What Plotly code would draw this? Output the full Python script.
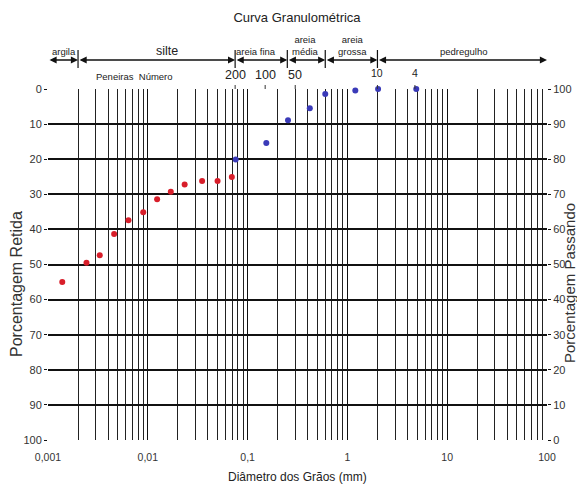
import math
import plotly.graph_objects as go

# ---- data ----
diam_fine = [0.00139, 0.00243, 0.0033, 0.0046, 0.0064, 0.0090, 0.0124, 0.017, 0.0234, 0.035, 0.050, 0.0695]
ret_fine = [55.0, 49.5, 47.4, 41.3, 37.4, 35.1, 31.4, 29.3, 27.2, 26.2, 26.2, 25.1]

diam_sieve = [0.076, 0.154, 0.254, 0.42, 0.60, 1.20, 2.03, 4.9]
ret_sieve = [20.1, 15.4, 8.9, 5.5, 1.4, 0.4, 0.0, 0.0]

zone_bounds = [0.001, 0.002, 0.075, 0.25, 0.6, 2.0, 100]
zone_names = ["argila", "silte", "areia fina", "areia<br>média", "areia<br>grossa", "pedregulho"]
zone_label_x = [0.00145, 0.0157, 0.12, 0.383, 1.135, 14.8]

sieve_numbers = ["200", "100", "50", "10", "4"]
sieve_sizes = [0.075, 0.15, 0.3, 2.0, 4.75]

x_tickvals = [0.001, 0.01, 0.1, 1, 10, 100]
x_ticktext = ["0,001", "0,01", "0,1", "1", "10", "100"]

FONT = "Liberation Sans, Arial, sans-serif"

minor_vals = [m * 10 ** e for e in range(-3, 2) for m in range(2, 10)]

# page body has an 8px margin; figure is sized to fit the 585x486 window
OFF = 8
W, H = 585 - OFF, 486 - OFF
PL, PR, PT, PB = 48, 547, 89, 440  # plot area in page pixels
plot_w = PR - PL
plot_h = PB - PT


def py(pix):
    return (PB - pix) / plot_h


def px(pix):
    return (pix - PL) / plot_w


fig = go.Figure()
fig.add_trace(go.Scatter(x=diam_fine, y=ret_fine, mode="markers",
                         marker=dict(color="#d81e2a", size=6), yaxis="y",
                         cliponaxis=False, showlegend=False))
fig.add_trace(go.Scatter(x=diam_sieve, y=ret_sieve, mode="markers",
                         marker=dict(color="#3a3ab8", size=6), yaxis="y",
                         cliponaxis=False, showlegend=False))
fig.add_trace(go.Scatter(x=[0.001], y=[None], yaxis="y2", showlegend=False))

fig.update_layout(
    width=W, height=H,
    margin=dict(l=PL - OFF, r=W - (PR - OFF), t=PT - OFF, b=H - (PB - OFF), autoexpand=False),
    plot_bgcolor="white", paper_bgcolor="white",
    font=dict(family=FONT, size=11, color="#222"),
    title=dict(text="Curva Granulométrica", x=(297 - OFF) / W, xanchor="center",
               y=1 - (17 - OFF) / H, yanchor="middle", yref="container",
               font=dict(family=FONT, size=13, color="#222")),
    xaxis=dict(type="log", range=[-3, 2], tickmode="array", tickvals=x_tickvals, ticktext=x_ticktext,
               showgrid=True, gridcolor="#111", gridwidth=1.2, automargin=False,
               minor=dict(tickmode="array", tickvals=minor_vals, showgrid=True, gridcolor="#222", gridwidth=1),
               showline=False, ticks="", zeroline=False, ticklabelstandoff=9,
               tickfont=dict(size=10.5, color="#333")),
    yaxis=dict(range=[100, 0], tickmode="linear", tick0=0, dtick=10, automargin=False,
               showgrid=True, gridcolor="#111", gridwidth=1.5, zeroline=False,
               ticks="outside", ticklen=3, tickcolor="#111",
               tickfont=dict(size=11, color="#333")),
    yaxis2=dict(range=[0, 100], overlaying="y", side="right", tickmode="linear", tick0=0, dtick=10,
                showgrid=False, zeroline=False, ticks="outside", ticklen=3, tickcolor="#111",
                automargin=False, tickfont=dict(size=11, color="#333")),
)

annotations = []
shapes = []
arrow_y = py(60)
for i, name in enumerate(zone_names):
    a, b = zone_bounds[i], zone_bounds[i + 1]
    annotations.append(dict(x=math.log10(b), y=arrow_y, xref="x", yref="paper",
                            ax=math.log10(a), ay=0, axref="x", ayref="pixel",
                            text="", showarrow=True, arrowhead=2, arrowsize=1.1,
                            arrowwidth=1.3, arrowside="end+start", arrowcolor="#111",
                            startarrowhead=2, startarrowsize=1.1))
    big = name == "silte"
    annotations.append(dict(x=math.log10(zone_label_x[i]), y=py(60 if big else 59), xref="x", yref="paper",
                            text=name, showarrow=False, yanchor="bottom",
                            font=dict(size=12.5 if big else 9.5, color="#222", family=FONT)))
for bnd in zone_bounds[1:-1]:
    shapes.append(dict(type="line", xref="x", yref="paper", x0=bnd, x1=bnd,
                       y0=py(50), y1=py(68), line=dict(color="#111", width=1.2)))

for lab, s in zip(sieve_numbers, sieve_sizes):
    small = lab in ("10", "4")
    annotations.append(dict(x=math.log10(s), y=py(84 if not small else 81), xref="x", yref="paper",
                            text=lab, showarrow=False, yanchor="bottom",
                            font=dict(size=10.5 if small else 12.5, color="#222", family=FONT)))
    shapes.append(dict(type="line", xref="x", yref="paper", x0=s, x1=s,
                       y0=py(89), y1=py(85), line=dict(color="#333", width=1)))

annotations.append(dict(x=math.log10(0.0073), y=py(77), xref="x", yref="paper",
                        text="Peneiras  Número", showarrow=False, yanchor="middle",
                        font=dict(size=9.5, color="#222", family=FONT)))

# axis titles
annotations.append(dict(x=px(16), y=py(284), xref="paper", yref="paper", text="Porcentagem Retida",
                        textangle=-90, showarrow=False, xanchor="center", yanchor="middle",
                        font=dict(size=16, color="#333", family=FONT)))
annotations.append(dict(x=px(569), y=py(283), xref="paper", yref="paper", text="Porcentagem Passando",
                        textangle=-90, showarrow=False, xanchor="center", yanchor="middle",
                        font=dict(size=15, color="#333", family=FONT)))
annotations.append(dict(x=px(297), y=py(477), xref="paper", yref="paper", text="Diâmetro dos Grãos (mm)",
                        showarrow=False, xanchor="center", yanchor="middle",
                        font=dict(size=12, color="#222", family=FONT)))

fig.update_layout(annotations=annotations, shapes=shapes)
fig.write_html("out.html")
